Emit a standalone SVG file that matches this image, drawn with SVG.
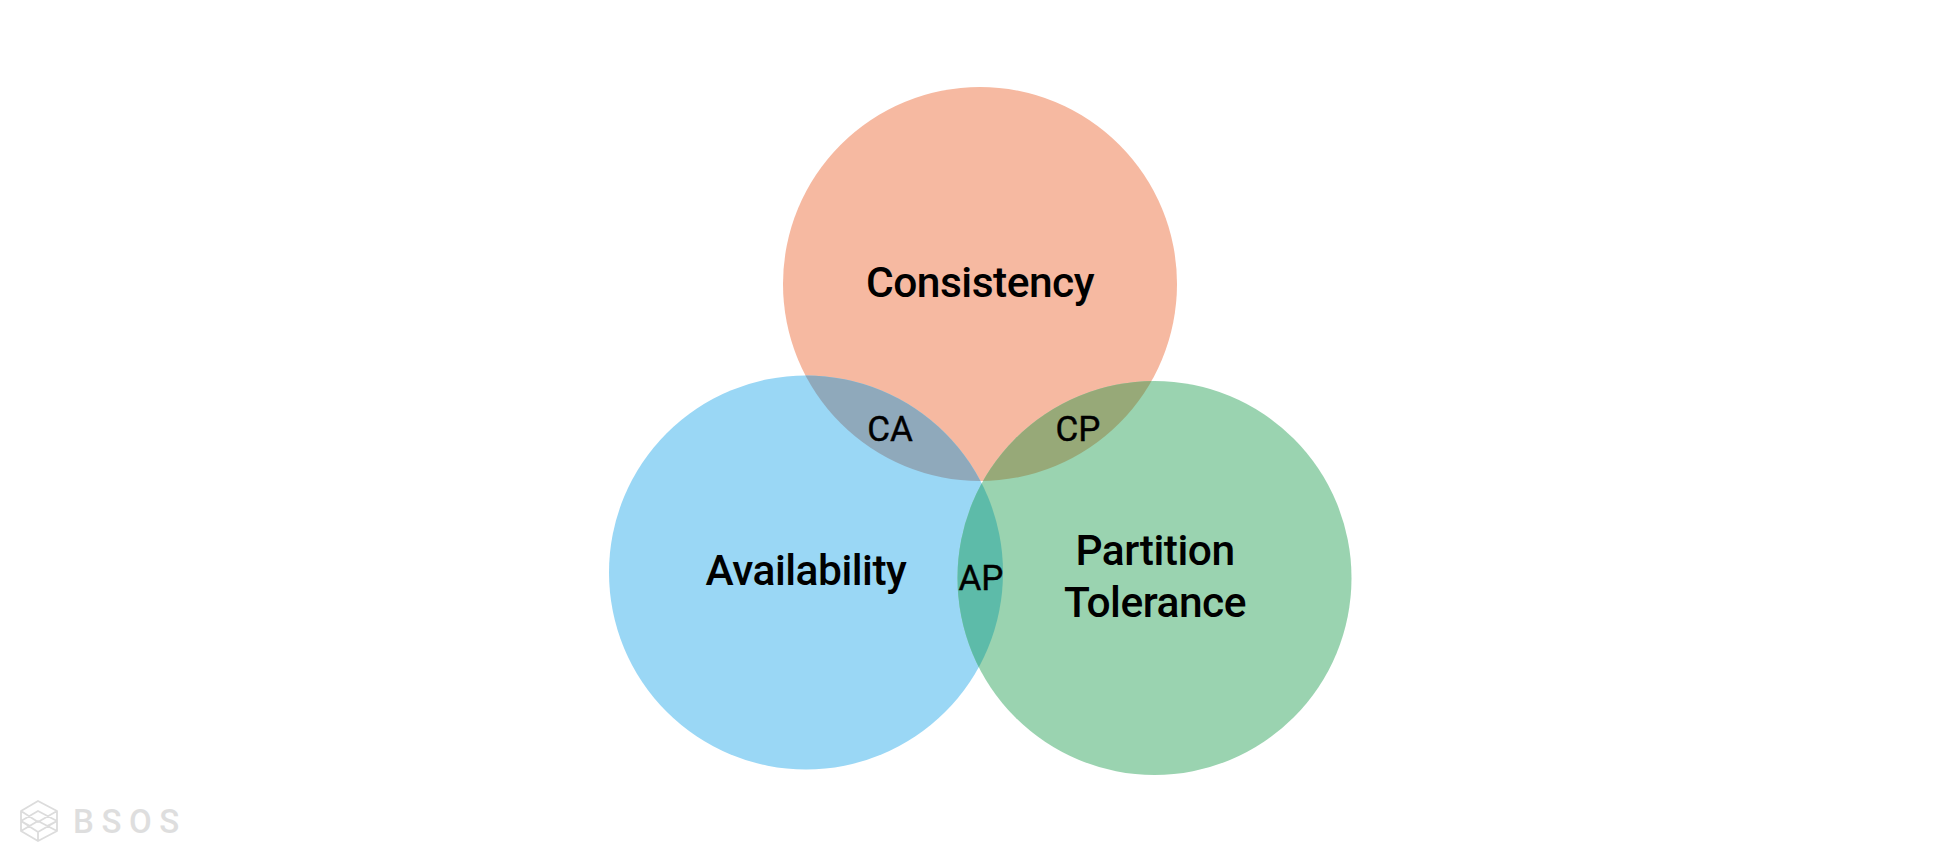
<svg xmlns="http://www.w3.org/2000/svg" width="1960" height="863" viewBox="0 0 1960 863">
<style>
.l{font-family:Roboto,"Liberation Sans",sans-serif;fill:#000;text-anchor:middle}
.b{font-size:42.5px;font-weight:500;letter-spacing:-.5px}
.s{font-size:35px;font-weight:400;stroke:#000;stroke-width:.4px}
.i{fill:none;stroke:#dcdcdc;stroke-width:1.8;stroke-linejoin:round}
</style>
<defs>
<clipPath id="cC"><circle cx="980" cy="284" r="197"/></clipPath>
<clipPath id="cA"><circle cx="806" cy="572.5" r="197"/></clipPath>
</defs>
<rect width="1960" height="863" fill="#fff"/>
<g id="consistency"><circle cx="980" cy="284" r="197" fill="#f6b9a1"/></g>
<g id="availability"><circle cx="806" cy="572.5" r="197" fill="#9ad7f5"/></g>
<g id="partition"><circle cx="1154.500" cy="578" r="197" fill="#9ad3b0"/></g>
<g id="overlap-ca" clip-path="url(#cC)"><circle cx="806" cy="572.5" r="197" fill="#8fa9bb"/></g>
<g id="overlap-cp" clip-path="url(#cC)"><circle cx="1154.500" cy="578" r="197" fill="#97a978"/></g>
<g id="overlap-ap" clip-path="url(#cA)"><circle cx="1154.500" cy="578" r="197" fill="#5dbba9"/></g>
<text class="l b" x="980" y="297">Consistency</text>
<text class="l b" x="806" y="585">Availability</text>
<text class="l b" x="1155" y="565">Partition</text>
<text class="l b" x="1155" y="617">Tolerance</text>
<text class="l s" x="890" y="441">CA</text>
<text class="l s" x="1078" y="441">CP</text>
<text class="l s" x="981" y="590">AP</text>
<g id="logo">
<path class="i" d="M21 811L38 801L57 811L38 822ZM21 811V821L30 826M21 821L38 811L57 821L38 832ZM47 826L57 821V811M21 821V831L38 841L57 831V821M21 831L38 821L57 831M38 832V841"/>
<text x="73" y="833" font-family="Roboto,'Liberation Sans',sans-serif" font-weight="500" font-size="33" fill="#dedede" letter-spacing="7.6">BSOS</text>
</g>
</svg>
